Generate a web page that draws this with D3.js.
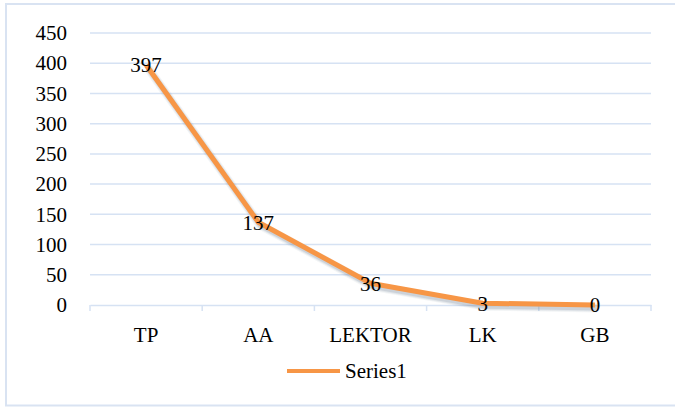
<!DOCTYPE html>
<html>
<head>
<meta charset="utf-8">
<script src="https://cdn.jsdelivr.net/npm/d3@7"></script>
<style>
  body { margin: 0; background: #fff; }
  svg text { font-family: "Liberation Serif", "Times New Roman", Times, serif; }
</style>
</head>
<body>
<svg id="chart" width="675" height="407"></svg>
<script>
// chart values
var categories = ["TP", "AA", "LEKTOR", "LK", "GB"];
var values = [397, 137, 36, 3, 0];
var yTicks = [0, 50, 100, 150, 200, 250, 300, 350, 400, 450];
var seriesName = "Series1";

var serif = "Liberation Serif";
var fontSize = 21;

var svg = d3.select("#chart");
var margin = {left: 90, right: 24, top: 33, bottom: 102};
var width = 675 - margin.left - margin.right;
var height = 407 - margin.top - margin.bottom;

// outer frame (right side runs off the picture)
svg.append("rect")
    .attr("x", 6).attr("y", 4)
    .attr("width", 700).attr("height", 401.5)
    .attr("fill", "#fff")
    .attr("stroke", "#d9e3f2")
    .attr("stroke-width", 2);

var g = svg.append("g").attr("transform", `translate(${margin.left},${margin.top})`);

var x = d3.scaleBand().domain(categories).range([0, width]);
var y = d3.scaleLinear().domain([0, 450]).range([height, 0]);

// gridlines
g.append("g").selectAll("line")
    .data(yTicks.filter(d => d > 0))
    .join("line")
    .attr("x1", 0).attr("x2", width)
    .attr("y1", d => y(d)).attr("y2", d => y(d))
    .attr("stroke", "#d6e2f3").attr("stroke-width", 1.5);

// Y axis labels
var yAxis = g.append("g")
    .call(d3.axisLeft(y).tickValues(yTicks).tickSize(0).tickPadding(23));
yAxis.attr("font-family", null).attr("font-size", null);
yAxis.select(".domain").remove();
yAxis.selectAll("text")
    .attr("fill", "#000")
    .attr("font-family", serif)
    .attr("font-size", fontSize);

// X axis
var xAxis = g.append("g")
    .attr("transform", `translate(0,${height})`)
    .call(d3.axisBottom(x).tickSize(0).tickPadding(22));
xAxis.attr("font-family", null).attr("font-size", null);
xAxis.select(".domain").attr("stroke", "#d6e2f3").attr("stroke-width", 1.5);
xAxis.selectAll("text")
    .attr("fill", "#000")
    .attr("font-family", serif)
    .attr("font-size", fontSize);

// category boundary ticks
g.append("g").selectAll("line")
    .data(d3.range(categories.length + 1))
    .join("line")
    .attr("x1", i => i * x.bandwidth()).attr("x2", i => i * x.bandwidth())
    .attr("y1", height).attr("y2", height + 6)
    .attr("stroke", "#d6e2f3").attr("stroke-width", 1.5);

// line with a soft offset shadow (layered strokes, no filter)
var line = d3.line()
    .x((d, i) => x(categories[i]) + x.bandwidth() / 2)
    .y(d => y(d));
[[9, 0.08], [7, 0.12], [5, 0.18]].forEach(function(s) {
  g.append("path")
      .datum(values)
      .attr("d", line)
      .attr("transform", "translate(2,3)")
      .attr("fill", "none")
      .attr("stroke", "#6b7b92")
      .attr("stroke-opacity", s[1])
      .attr("stroke-width", s[0])
      .attr("stroke-linejoin", "round");
});
g.append("path")
    .datum(values)
    .attr("d", line)
    .attr("fill", "none")
    .attr("stroke", "#f79646")
    .attr("stroke-width", 5)
    .attr("stroke-linejoin", "round");

// data labels
g.append("g")
    .selectAll("text")
    .data(values)
    .join("text")
    .attr("x", (d, i) => x(categories[i]) + x.bandwidth() / 2)
    .attr("y", d => y(d))
    .attr("dy", "0.35em")
    .attr("text-anchor", "middle")
    .attr("font-family", serif)
    .attr("font-size", fontSize)
    .text(d => d);

// legend
var leg = svg.append("g").attr("transform", "translate(287,371)");
leg.append("line")
    .attr("x1", 0).attr("x2", 53)
    .attr("stroke", "#f79646").attr("stroke-width", 4);
leg.append("text")
    .attr("x", 58).attr("dy", "0.35em")
    .attr("font-family", serif)
    .attr("font-size", fontSize)
    .text(seriesName);
</script>
</body>
</html>
